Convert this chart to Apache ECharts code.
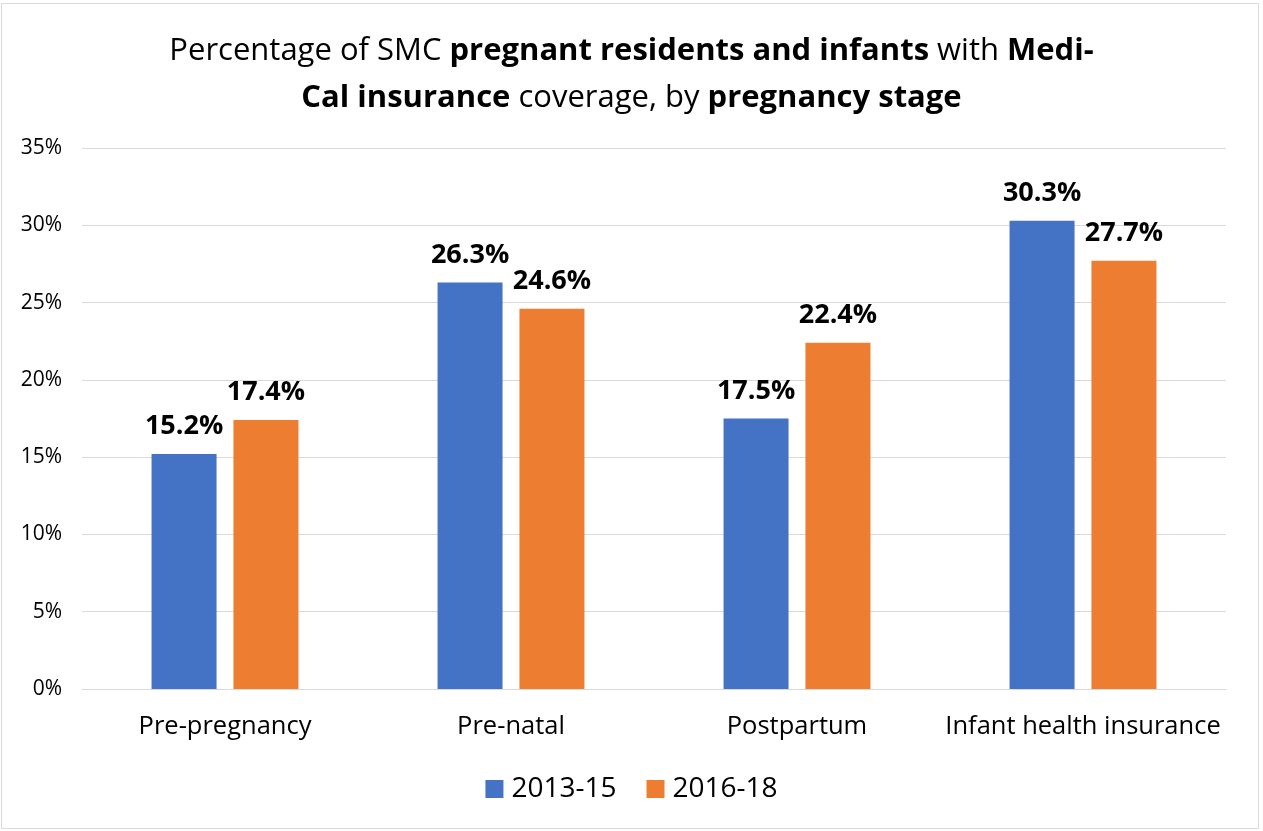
<!DOCTYPE html>
<html>
<head>
<meta charset="utf-8">
<script src="https://cdn.jsdelivr.net/npm/echarts@6/dist/echarts.min.js"></script>
<style>
  html, body { margin: 0; padding: 0; background: #fff; }
  #chart { width: 1263px; height: 831px; }
</style>
</head>
<body>
<div id="chart"></div>
<script>
// data
const categories = ['Pre-pregnancy', 'Pre-natal', 'Postpartum', 'Infant health insurance']
const seriesNames = ['2013-15', '2016-18']
const values201315 = [15.2, 26.3, 17.5, 30.3]
const values201618 = [17.4, 24.6, 22.4, 27.7]
const yTicks = [0, 5, 10, 15, 20, 25, 30, 35]

const colors = ['#4472C4', '#ED7D31']
const fontFamily = '"Open Sans", "Noto Sans", sans-serif'

const chart = echarts.init(document.getElementById('chart'))

function barSeries(name, data, color) {
  return {
    name: name,
    type: 'bar',
    data: data,
    barWidth: 65,
    barGap: '26%',
    itemStyle: { color: color },
    label: {
      show: true,
      position: 'top',
      distance: 14,
      formatter: (p) => p.value.toFixed(1) + '%',
      fontFamily: fontFamily,
      fontWeight: 'bold',
      fontSize: 27,
      color: '#000'
    }
  }
}

chart.setOption({
  animation: false,
  textStyle: { fontFamily: fontFamily },
  graphic: [{
    type: 'rect',
    shape: { x: 1.5, y: 3.5, width: 1257, height: 825 },
    style: { fill: 'none', stroke: '#d9d9d9', lineWidth: 1 },
    silent: true
  }],
  title: {
    left: 'center',
    top: 23,
    text: 'Percentage of SMC {b|pregnant residents and infants} with {b|Medi-}\n{b|Cal insurance} coverage, by {b|pregnancy stage}',
    textStyle: {
      fontFamily: fontFamily,
      fontSize: 31,
      fontWeight: 'normal',
      color: '#000',
      lineHeight: 47,
      rich: {
        b: {
          fontFamily: fontFamily,
          fontSize: 31,
          fontWeight: 'bold',
          color: '#000',
          lineHeight: 47
        }
      }
    }
  },
  legend: {
    bottom: 23,
    left: 'center',
    itemWidth: 18,
    itemHeight: 18,
    itemGap: 30,
    icon: 'rect',
    data: seriesNames,
    textStyle: {
      fontFamily: fontFamily,
      fontSize: 28,
      color: '#000',
      padding: [0, 0, 0, 3]
    }
  },
  grid: {
    left: 82,
    right: 37,
    top: 148,
    bottom: 142,
    containLabel: false
  },
  xAxis: {
    type: 'category',
    data: categories,
    axisTick: { show: false },
    axisLine: { lineStyle: { color: '#d9d9d9', width: 1 } },
    axisLabel: {
      interval: 0,
      margin: 25,
      fontFamily: fontFamily,
      fontSize: 25.5,
      color: '#000'
    }
  },
  yAxis: {
    type: 'value',
    min: yTicks[0],
    max: yTicks[yTicks.length - 1],
    interval: 5,
    axisLine: { show: false },
    axisTick: { show: false },
    splitLine: { lineStyle: { color: '#d9d9d9', width: 1 } },
    axisLabel: {
      margin: 20,
      formatter: '{value}%',
      fontFamily: fontFamily,
      fontSize: 21,
      color: '#000'
    }
  },
  series: [
    barSeries(seriesNames[0], values201315, colors[0]),
    barSeries(seriesNames[1], values201618, colors[1])
  ]
})
</script>
</body>
</html>
